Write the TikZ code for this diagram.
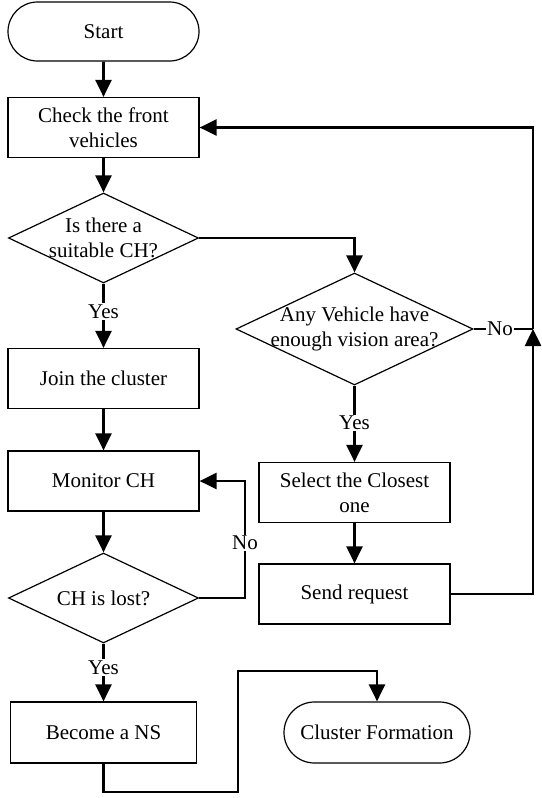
\documentclass[tikz,border=0pt]{standalone}
\usepackage{fontspec}
\setmainfont{Liberation Serif}
\usetikzlibrary{arrows.meta,shapes.geometric,shapes.misc}
\begin{document}
\begin{tikzpicture}[x=1pt,y=-1pt,
  every node/.style={font=\fontsize{21}{25}\selectfont},
  box/.style={draw,line width=1.2pt,rectangle,minimum width=191pt,minimum height=60pt,inner sep=0pt,align=center},
  pill/.style={draw,line width=1.2pt,rounded rectangle,minimum width=191pt,minimum height=59pt,inner sep=0pt},
  dia/.style={draw,line width=1.2pt,diamond,inner sep=0pt},
  conn/.style={line width=2.6pt},
  arr/.style={line width=2.6pt,-{Triangle[length=17pt,width=16pt]}},
  lbl/.style={fill=white,inner sep=1.5pt}]
\useasboundingbox (0,0) rectangle (541,798);
% left column
\node[pill] (start) at (103.5,31.5) {Start};
\node[box] (check) at (103.5,127.5) {Check the front\\vehicles};
\node[dia,minimum width=190pt,minimum height=90pt] (d1) at (103.5,238) {};
\node[align=center] (d1t) at (103.5,238) {Is there a\\suitable CH?};
\node[box] (join) at (103.5,378.5) {Join the cluster};
\node[box] (mon) at (103.5,481) {Monitor CH};
\node[dia,minimum width=190pt,minimum height=90pt] (d2) at (103.5,598) {};
\node (d2t) at (103.5,598) {CH is lost?};
\node[box,minimum width=186pt,minimum height=61pt] (ns) at (103.5,732.5) {Become a NS};
% right column
\node[dia,minimum width=237pt,minimum height=112pt] (d3) at (354.5,329) {};
\node[align=center] (d3t) at (354.5,329) {Any Vehicle have\\enough vision area?};
\node[box] (sel) at (354.5,492.5) {Select the Closest\\one};
\node[box] (send) at (354.5,594) {Send request};
\node[pill,minimum width=186pt,minimum height=61pt] (cf) at (377,732.5) {Cluster Formation};
% helper coordinates
\coordinate (r1) at (354.5,238);
\coordinate (rb) at (533,594);
\coordinate (rm) at (533,329);
\coordinate (rt) at (533,127.5);
\coordinate (l1) at (245,598);
\coordinate (l2) at (245,481);
\coordinate (b1) at (103.5,792);
\coordinate (b2) at (238,792);
\coordinate (b3) at (238,671);
\coordinate (b4) at (377,671);
% connectors
\draw[arr] (start) -- (check);
\draw[arr] (check) -- (d1.north);
\draw[arr] (d1.south) -- (join.north) node[lbl,pos=0.44] (y1) {Yes};
\draw[arr] (join) -- (mon);
\draw[arr] (mon) -- (d2.north);
\draw[arr] (d2.east) -- (l1) -- (l2) -- (mon.east);
\node[lbl] (n1) at (245,543) {No};
\draw[arr] (d2.south) -- (ns.north) node[lbl,pos=0.42] (y2) {Yes};
\draw[arr] (ns.south) -- (b1) -- (b2) -- (b3) -- (b4) -- (cf.north);
\draw[arr] (d1.east) -- (r1) -- (d3.north);
\draw[arr] (d3.south) -- (sel.north) node[lbl,pos=0.49] (y3) {Yes};
\draw[arr] (sel) -- (send);
\draw[conn] (d3.east) -- (rm);
\node[lbl] (n2) at (500,329) {No};
\draw[arr] (send.east) -- (rb) -- (rm);
\draw[arr] (rm) -- (rt) -- (check.east);
\end{tikzpicture}
\end{document}
